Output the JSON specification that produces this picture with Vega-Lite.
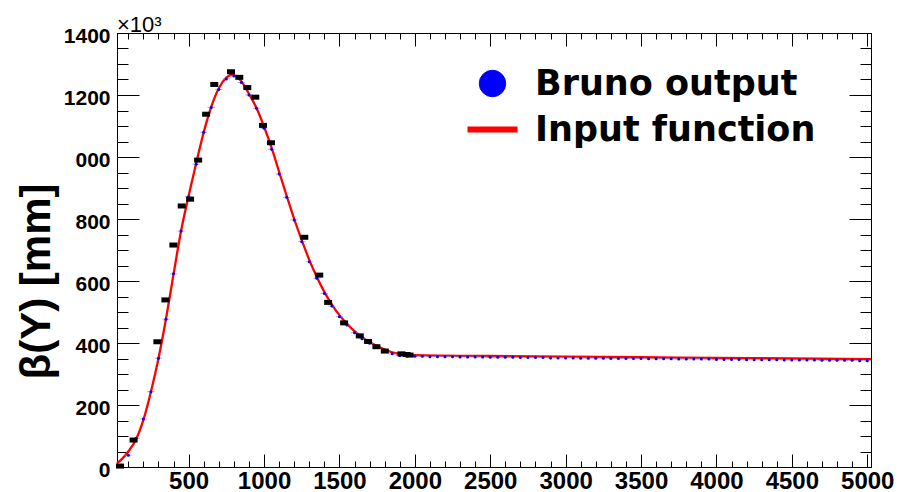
{
  "$schema": "https://vega.github.io/schema/vega-lite/v6.json",
  "width": 754,
  "height": 434,
  "autosize": {"type": "none"},
  "padding": {"left": 117, "top": 33, "right": 33, "bottom": 25},
  "background": "white",
  "config": {
    "view": {"stroke": "black", "strokeWidth": 1},
    "font": "Liberation Sans"
  },
  "title": {
    "text": "×10³",
    "anchor": "start",
    "frame": "group",
    "font": "Liberation Sans",
    "fontSize": 22,
    "fontWeight": "normal",
    "color": "black",
    "offset": -12
  },
  "datasets": {
    "func": [
      {"x": 25, "y": 12}, {"x": 50, "y": 22}, {"x": 100, "y": 50}, {"x": 150, "y": 88},
      {"x": 200, "y": 152}, {"x": 250, "y": 243}, {"x": 300, "y": 350}, {"x": 350, "y": 478},
      {"x": 400, "y": 622}, {"x": 450, "y": 762}, {"x": 500, "y": 875}, {"x": 550, "y": 980},
      {"x": 600, "y": 1080}, {"x": 650, "y": 1162}, {"x": 700, "y": 1222}, {"x": 750, "y": 1256},
      {"x": 790, "y": 1266}, {"x": 850, "y": 1244}, {"x": 900, "y": 1204}, {"x": 950, "y": 1158},
      {"x": 1000, "y": 1098}, {"x": 1050, "y": 1030}, {"x": 1100, "y": 952}, {"x": 1150, "y": 875},
      {"x": 1200, "y": 800}, {"x": 1250, "y": 732}, {"x": 1300, "y": 668}, {"x": 1350, "y": 613},
      {"x": 1400, "y": 565}, {"x": 1450, "y": 524}, {"x": 1500, "y": 490}, {"x": 1550, "y": 462},
      {"x": 1600, "y": 438}, {"x": 1650, "y": 419}, {"x": 1700, "y": 403}, {"x": 1750, "y": 390},
      {"x": 1800, "y": 379}, {"x": 1850, "y": 370}, {"x": 1900, "y": 365}, {"x": 1950, "y": 362},
      {"x": 2000, "y": 361}, {"x": 2500, "y": 358}, {"x": 3000, "y": 356}, {"x": 3500, "y": 354},
      {"x": 4000, "y": 352}, {"x": 4500, "y": 350}, {"x": 5025, "y": 348}
    ],
    "bruno": [
      {"x": 50, "y": 6}, {"x": 100, "y": 38}, {"x": 150, "y": 92}, {"x": 200, "y": 155},
      {"x": 250, "y": 243}, {"x": 300, "y": 351}, {"x": 350, "y": 477}, {"x": 400, "y": 623},
      {"x": 450, "y": 761}, {"x": 500, "y": 872}, {"x": 550, "y": 977}, {"x": 600, "y": 1080},
      {"x": 650, "y": 1160}, {"x": 700, "y": 1218}, {"x": 750, "y": 1252}, {"x": 800, "y": 1261},
      {"x": 850, "y": 1240}, {"x": 900, "y": 1200}, {"x": 950, "y": 1157}, {"x": 1000, "y": 1093},
      {"x": 1050, "y": 1025}, {"x": 1100, "y": 945}, {"x": 1150, "y": 870}, {"x": 1200, "y": 797},
      {"x": 1250, "y": 727}, {"x": 1300, "y": 662}, {"x": 1350, "y": 609}, {"x": 1400, "y": 560},
      {"x": 1450, "y": 519}, {"x": 1500, "y": 485}, {"x": 1550, "y": 458}, {"x": 1600, "y": 433},
      {"x": 1650, "y": 414}, {"x": 1700, "y": 399}, {"x": 1750, "y": 388}, {"x": 1800, "y": 375},
      {"x": 1850, "y": 365}, {"x": 1900, "y": 360}, {"x": 1950, "y": 358}, {"x": 2000, "y": 357},
      {"x": 2050, "y": 357}, {"x": 2100, "y": 356}, {"x": 2150, "y": 356}, {"x": 2200, "y": 356},
      {"x": 2250, "y": 356}, {"x": 2300, "y": 355}, {"x": 2350, "y": 355}, {"x": 2400, "y": 355},
      {"x": 2450, "y": 355}, {"x": 2500, "y": 354}, {"x": 2550, "y": 354}, {"x": 2600, "y": 354},
      {"x": 2650, "y": 354}, {"x": 2700, "y": 353}, {"x": 2750, "y": 353}, {"x": 2800, "y": 353},
      {"x": 2850, "y": 353}, {"x": 2900, "y": 352}, {"x": 2950, "y": 352}, {"x": 3000, "y": 352},
      {"x": 3050, "y": 352}, {"x": 3100, "y": 351}, {"x": 3150, "y": 351}, {"x": 3200, "y": 351},
      {"x": 3250, "y": 351}, {"x": 3300, "y": 350}, {"x": 3350, "y": 350}, {"x": 3400, "y": 350},
      {"x": 3450, "y": 350}, {"x": 3500, "y": 350}, {"x": 3550, "y": 349}, {"x": 3600, "y": 349},
      {"x": 3650, "y": 349}, {"x": 3700, "y": 349}, {"x": 3750, "y": 348}, {"x": 3800, "y": 348},
      {"x": 3850, "y": 348}, {"x": 3900, "y": 348}, {"x": 3950, "y": 348}, {"x": 4000, "y": 347},
      {"x": 4050, "y": 347}, {"x": 4100, "y": 347}, {"x": 4150, "y": 347}, {"x": 4200, "y": 346},
      {"x": 4250, "y": 346}, {"x": 4300, "y": 346}, {"x": 4350, "y": 346}, {"x": 4400, "y": 346},
      {"x": 4450, "y": 345}, {"x": 4500, "y": 345}, {"x": 4550, "y": 345}, {"x": 4600, "y": 345},
      {"x": 4650, "y": 345}, {"x": 4700, "y": 344}, {"x": 4750, "y": 344}, {"x": 4800, "y": 344},
      {"x": 4850, "y": 344}, {"x": 4900, "y": 344}, {"x": 4950, "y": 343}, {"x": 5000, "y": 343}
    ],
    "squares": [
      {"x": 45, "y": 3}, {"x": 135, "y": 87}, {"x": 293, "y": 404}, {"x": 346, "y": 539},
      {"x": 399, "y": 716}, {"x": 454, "y": 842}, {"x": 510, "y": 864}, {"x": 563, "y": 990},
      {"x": 616, "y": 1138}, {"x": 670, "y": 1234}, {"x": 781, "y": 1275}, {"x": 836, "y": 1257},
      {"x": 889, "y": 1224}, {"x": 942, "y": 1193}, {"x": 993, "y": 1102}, {"x": 1046, "y": 1046},
      {"x": 1267, "y": 741}, {"x": 1366, "y": 619}, {"x": 1425, "y": 531}, {"x": 1531, "y": 465},
      {"x": 1635, "y": 423}, {"x": 1690, "y": 405}, {"x": 1745, "y": 388}, {"x": 1801, "y": 374},
      {"x": 1911, "y": 365}, {"x": 1945, "y": 363}, {"x": 1965, "y": 361}
    ]
  },
  "layer": [
    {
      "data": {"name": "func"},
      "mark": {"type": "line", "strokeWidth": 2.3, "interpolate": "monotone"},
      "encoding": {
        "x": {
          "field": "x", "type": "quantitative",
          "scale": {"domain": [25, 5025], "nice": false, "zero": false},
          "axis": {
            "orient": "bottom",
            "title": null,
            "grid": false,
            "values": [100,200,300,400,500,600,700,800,900,1000,1100,1200,1300,1400,1500,1600,1700,1800,1900,2000,2100,2200,2300,2400,2500,2600,2700,2800,2900,3000,3100,3200,3300,3400,3500,3600,3700,3800,3900,4000,4100,4200,4300,4400,4500,4600,4700,4800,4900,5000],
            "labelExpr": "datum.value % 500 === 0 ? format(datum.value, 'd') : ''",
            "tickSize": {"condition": {"test": "datum.value % 500 === 0", "value": -13}, "value": -6},
            "tickColor": "black",
            "tickWidth": 1,
            "domainColor": "black",
            "domainWidth": 1,
            "labelFont": "Liberation Sans",
            "labelFontWeight": "bold",
            "labelFontSize": 24,
            "labelColor": "black",
            "labelPadding": 15,
            "labelOverlap": false,
            "labelFlush": false
          }
        },
        "y": {
          "field": "y", "type": "quantitative",
          "scale": {"domain": [0, 1400], "nice": false},
          "axis": {
            "orient": "left",
            "grid": false,
            "values": [0,50,100,150,200,250,300,350,400,450,500,550,600,650,700,750,800,850,900,950,1000,1050,1100,1150,1200,1250,1300,1350,1400],
            "labelExpr": "datum.value % 200 === 0 ? (datum.value === 1000 ? '000' : format(datum.value, 'd')) : ''",
            "tickSize": {"condition": {"test": "datum.value % 200 === 0", "value": -22}, "value": -11},
            "tickColor": "black",
            "tickWidth": 1,
            "domainColor": "black",
            "domainWidth": 1,
            "labelFont": "Liberation Sans",
            "labelFontWeight": "bold",
            "labelFontSize": 21,
            "labelColor": "black",
            "labelPadding": 29,
            "labelOffset": 3,
            "labelOverlap": false,
            "labelFlush": false,
            "title": "β(Y) [mm]",
            "titleFont": "Liberation Sans",
            "titleFontWeight": "bold",
            "titleFontSize": 42,
            "titleColor": "black",
            "titleAngle": 270,
            "titleAlign": "center",
            "titleBaseline": "alphabetic",
            "titleX": -68,
            "titleY": 248
          }
        },
        "color": {
          "datum": "Input function",
          "type": "nominal",
          "scale": {"domain": ["Bruno output", "Input function"], "range": ["#0000ff", "#ff0000"]},
          "legend": {
            "title": null,
            "orient": "none",
            "legendX": 358,
            "legendY": 33,
            "symbolSize": 700,
            "symbolType": "circle",
            "labelFont": "DejaVu Sans",
            "labelFontWeight": "bold",
            "labelFontSize": 35,
            "labelColor": "black",
            "labelOffset": 25,
            "labelLimit": 0,
            "rowPadding": 10,
            "encode": {
              "symbols": {
                "update": {
                  "shape": {"signal": "datum.label === 'Bruno output' ? 'circle' : 'stroke'"},
                  "size": {"signal": "datum.label === 'Bruno output' ? 700 : 2500"},
                  "fill": {"signal": "datum.label === 'Bruno output' ? '#0000ff' : 'transparent'"},
                  "stroke": {"signal": "datum.label === 'Bruno output' ? '#000000' : '#ff0000'"},
                  "strokeWidth": {"signal": "datum.label === 'Bruno output' ? 1 : 6"},
                  "opacity": {"value": 1}
                }
              }
            }
          }
        }
      }
    },
    {
      "data": {"name": "bruno"},
      "mark": {"type": "tick", "orient": "horizontal", "size": 7.5, "thickness": 1, "color": "#9486dc"},
      "encoding": {
        "x": {
          "field": "x", "type": "quantitative",
          "axis": {
            "orient": "top",
            "title": null,
            "grid": false,
            "labels": false,
            "values": [100,200,300,400,500,600,700,800,900,1000,1100,1200,1300,1400,1500,1600,1700,1800,1900,2000,2100,2200,2300,2400,2500,2600,2700,2800,2900,3000,3100,3200,3300,3400,3500,3600,3700,3800,3900,4000,4100,4200,4300,4400,4500,4600,4700,4800,4900,5000],
            "tickSize": {"condition": {"test": "datum.value % 500 === 0", "value": -13}, "value": -6},
            "tickColor": "black",
            "tickWidth": 1,
            "domainColor": "black",
            "domainWidth": 1
          }
        },
        "y": {
          "field": "y", "type": "quantitative",
          "axis": {
            "orient": "right",
            "title": null,
            "grid": false,
            "labels": false,
            "values": [0,50,100,150,200,250,300,350,400,450,500,550,600,650,700,750,800,850,900,950,1000,1050,1100,1150,1200,1250,1300,1350,1400],
            "tickSize": {"condition": {"test": "datum.value % 200 === 0", "value": -22}, "value": -11},
            "tickColor": "black",
            "tickWidth": 1,
            "domainColor": "black",
            "domainWidth": 1
          }
        }
      }
    },
    {
      "data": {"name": "bruno"},
      "mark": {"type": "point", "shape": "circle", "filled": true, "size": 9, "opacity": 1},
      "encoding": {
        "x": {"field": "x", "type": "quantitative", "axis": null},
        "y": {"field": "y", "type": "quantitative", "axis": null},
        "color": {"datum": "Bruno output", "type": "nominal"}
      }
    },
    {
      "data": {"name": "squares"},
      "mark": {"type": "point", "shape": "M-1.6,-1L1.6,-1L1.6,1L-1.6,1Z", "filled": true, "size": 25, "color": "#000000", "opacity": 1},
      "encoding": {
        "x": {"field": "x", "type": "quantitative", "axis": null},
        "y": {"field": "y", "type": "quantitative", "axis": null}
      }
    }
  ],
  "resolve": {"axis": {"x": "independent", "y": "independent"}}
}
